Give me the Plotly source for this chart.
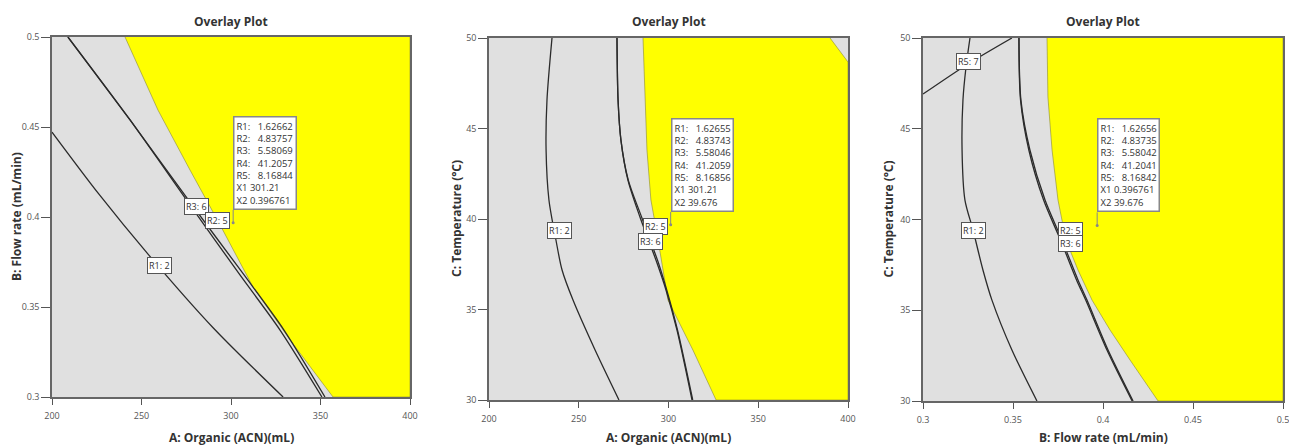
import plotly.graph_objects as go

# ---------------- data ----------------
# Panel 1: A Organic (x) vs B Flow rate (y)
p1_yellow_x = [240.8, 259.2, 277.1, 293.9, 312.3, 333.0, 357.0]
p1_yellow_y = [0.5, 0.4594, 0.4261, 0.3956, 0.3611, 0.3317, 0.3]
p1_r1_x = [200, 226.0, 254.0, 290.0, 329.1]
p1_r1_y = [0.4472, 0.4130, 0.3790, 0.3385, 0.3]
p1_r3_x = [208.9, 243.6, 277.1, 305.0, 327.4, 350.8]
p1_r3_y = [0.5, 0.4539, 0.4067, 0.3678, 0.3372, 0.3]
p1_r2_x = [208.9, 243.6, 278.2, 307.3, 329.6, 352.5]
p1_r2_y = [0.5, 0.4539, 0.4067, 0.3678, 0.3372, 0.3]
p1_labels = [("R1: 2", 260.3, 0.3728), ("R3: 6", 281.0, 0.4061), ("R2: 5", 292.2, 0.3978)]
p1_flag = (301.21, 0.396761)
p1_flag_vals = [("R1:", "1.62662"), ("R2:", "4.83757"), ("R3:", "5.58069"), ("R4:", "41.2057"),
                ("R5:", "8.16844"), ("X1", "301.21"), ("X2", "0.396761")]

# Panel 2: A Organic (x) vs C Temperature (y)
p2_yellow_x = [285.8, 286.9, 288.0, 290.2, 294.2, 299.7, 313.6, 326.5, 400, 400, 390.0]
p2_yellow_y = [50, 46.57, 43.81, 41.05, 38.84, 35.52, 32.76, 30, 30, 48.67, 50]
p2_r1_x = [235.1, 232.3, 231.8, 233.4, 237.3, 240.7, 246.8, 259.1, 272.4]
p2_r1_y = [50, 46.57, 43.81, 41.05, 38.84, 37.18, 35.52, 32.76, 30]
p2_r3_x = [271.3, 271.9, 273.5, 277.4, 284.1, 293.6, 298.6, 304.7, 313.1]
p2_r3_y = [50, 46.57, 44.36, 42.15, 40.11, 37.57, 36.08, 33.87, 30]
p2_r2_x = [271.3, 271.9, 273.5, 277.6, 285.0, 294.4, 299.0, 305.0, 313.5]
p2_r2_y = [50, 46.57, 44.36, 42.15, 40.11, 37.57, 36.08, 33.87, 30]
p2_labels = [("R1: 2", 239.0, 39.34), ("R2: 5", 292.5, 39.56), ("R3: 6", 289.7, 38.78)]
p2_flag = (301.21, 39.676)
p2_flag_vals = [("R1:", "1.62655"), ("R2:", "4.83743"), ("R3:", "5.58046"), ("R4:", "41.2059"),
                ("R5:", "8.16856"), ("X1", "301.21"), ("X2", "39.676")]

# Panel 3: B Flow rate (x) vs C Temperature (y)
p3_yellow_x = [0.3689, 0.3694, 0.3717, 0.3750, 0.3794, 0.3861, 0.3939, 0.4039, 0.4150, 0.4306]
p3_yellow_y = [50, 46.75, 43.83, 41.07, 38.87, 37.22, 35.56, 33.91, 32.26, 30]
p3_r1_x = [0.3261, 0.3239, 0.3222, 0.3217, 0.3233, 0.3278, 0.3333, 0.3383, 0.3494, 0.3633]
p3_r1_y = [50, 48.40, 46.58, 43.83, 41.07, 39.42, 37.22, 35.56, 32.81, 30]
p3_r3_x = [0.3533, 0.3544, 0.3594, 0.3678, 0.3772, 0.3861, 0.3911, 0.4028, 0.4167]
p3_r3_y = [50, 46.58, 43.83, 41.07, 38.87, 36.67, 35.56, 32.81, 30]
p3_r2_x = [0.3533, 0.3542, 0.3588, 0.3670, 0.3764, 0.3853, 0.3904, 0.4022, 0.4162]
p3_r2_y = [50, 46.58, 43.83, 41.07, 38.87, 36.67, 35.56, 32.81, 30]
p3_r5_x = [0.3, 0.325, 0.3494]
p3_r5_y = [46.91, 48.57, 50]
p3_labels = [("R5: 7", 0.325, 48.68), ("R1: 2", 0.3278, 39.37), ("R2: 5", 0.3817, 39.42), ("R3: 6", 0.3817, 38.65)]
p3_flag = (0.396761, 39.676)
p3_flag_vals = [("R1:", "1.62656"), ("R2:", "4.83735"), ("R3:", "5.58042"), ("R4:", "41.2041"),
                ("R5:", "8.16842"), ("X1", "0.396761"), ("X2", "39.676")]

titles = ["Overlay Plot", "Overlay Plot", "Overlay Plot"]
x_titles = ["A: Organic (ACN)(mL)", "A: Organic (ACN)(mL)", "B: Flow rate (mL/min)"]
y_titles = ["B: Flow rate (mL/min)", "C: Temperature (°C)", "C: Temperature (°C)"]
x_ranges = [[200, 400], [200, 400], [0.3, 0.5]]
y_ranges = [[0.3, 0.5], [30, 50], [30, 50]]
x_ticks = [[200, 250, 300, 350, 400], [200, 250, 300, 350, 400], [0.3, 0.35, 0.4, 0.45, 0.5]]
y_ticks = [[0.3, 0.35, 0.4, 0.45, 0.5], [30, 35, 40, 45, 50], [30, 35, 40, 45, 50]]

# ---------------- layout geometry ----------------
W, H = 1289, 447
x_domains = [[52 / W, 410 / W], [489 / W, 848 / W], [923 / W, 1283 / W]]
y_domains = [[1 - 397 / H, 1 - 37 / H], [1 - 400 / H, 1 - 38 / H], [1 - 401 / H, 1 - 38 / H]]
ytitle_x = [16 / W, 457 / W, 888 / W]

GRAY = "#e0e0e0"
YELLOW = "#ffff00"
LINE = "#2b2b2b"
FONT = "Open Sans"

fig = go.Figure()


def add_panel(i, yellow_x, yellow_y, lines, labels, flag, flag_vals, close_corner):
    xa = "x" if i == 0 else f"x{i+1}"
    ya = "y" if i == 0 else f"y{i+1}"
    xr, yr = x_ranges[i], y_ranges[i]
    fig.add_trace(go.Scatter(x=[xr[0], xr[1], xr[1], xr[0], xr[0]], y=[yr[0], yr[0], yr[1], yr[1], yr[0]],
                             fill="toself", fillcolor=GRAY, mode="lines", line=dict(width=0),
                             xaxis=xa, yaxis=ya, hoverinfo="skip", showlegend=False))
    px, py = list(yellow_x), list(yellow_y)
    if close_corner:
        px += [xr[1], xr[1]]
        py += [yr[0], yr[1]]
    fig.add_trace(go.Scatter(x=px, y=py, fill="toself", fillcolor=YELLOW, mode="lines",
                             line=dict(width=0.6, color="#8a8a30"),
                             xaxis=xa, yaxis=ya, hoverinfo="skip", showlegend=False))
    for lx, ly in lines:
        fig.add_trace(go.Scatter(x=lx, y=ly, mode="lines",
                                 line=dict(color=LINE, width=1.3, shape="spline", smoothing=0.8),
                                 xaxis=xa, yaxis=ya, hoverinfo="skip", showlegend=False))
    for txt, lx, ly in labels:
        fig.add_annotation(x=lx, y=ly, xref=xa, yref=ya, text=txt, showarrow=False,
                           font=dict(family=FONT, size=9, color="#333"),
                           bgcolor="white", bordercolor="#555", borderwidth=1, borderpad=1)
    fig.add_trace(go.Scatter(x=[flag[0]], y=[flag[1]], mode="markers",
                             marker=dict(size=3, color="#888"),
                             xaxis=xa, yaxis=ya, hoverinfo="skip", showlegend=False))
    rows = []
    for k, v in flag_vals:
        gap = "&nbsp;" * (3 if k.endswith(":") else 1)
        rows.append(f"{k}{gap}{v}")
    fig.add_annotation(x=flag[0], y=flag[1], xref=xa, yref=ya, text="<br>".join(rows),
                       showarrow=True, arrowhead=0, arrowwidth=1, arrowcolor="#888",
                       ax=0, ay=-13, axref="pixel", ayref="pixel", standoff=0,
                       xanchor="left", yanchor="bottom", align="left",
                       font=dict(family=FONT, size=9.5, color="#333"),
                       bgcolor="white", bordercolor="#888", borderwidth=1.5, borderpad=2)


add_panel(0, p1_yellow_x, p1_yellow_y,
          [(p1_r1_x, p1_r1_y), (p1_r3_x, p1_r3_y), (p1_r2_x, p1_r2_y)],
          p1_labels, p1_flag, p1_flag_vals, True)
add_panel(1, p2_yellow_x, p2_yellow_y,
          [(p2_r1_x, p2_r1_y), (p2_r3_x, p2_r3_y), (p2_r2_x, p2_r2_y)],
          p2_labels, p2_flag, p2_flag_vals, False)
add_panel(2, p3_yellow_x, p3_yellow_y,
          [(p3_r1_x, p3_r1_y), (p3_r3_x, p3_r3_y), (p3_r2_x, p3_r2_y), (p3_r5_x, p3_r5_y)],
          p3_labels, p3_flag, p3_flag_vals, True)

layout = dict(width=W, height=H, margin=dict(l=0, r=0, t=0, b=0, pad=0, autoexpand=False),
              paper_bgcolor="white", plot_bgcolor="white", showlegend=False)
for i in range(3):
    sx = "" if i == 0 else str(i + 1)
    common = dict(tickcolor="#555", automargin=False, ticks="outside",
                  showline=True, linecolor="#666", linewidth=1.5, mirror=True,
                  showgrid=False, zeroline=False, ticklabeloverflow="allow",
                  tickfont=dict(family=FONT, size=9, color="#555"))
    layout[f"xaxis{sx}"] = dict(domain=x_domains[i], range=x_ranges[i], anchor=f"y{sx}",
                                tickvals=x_ticks[i], ticklen=6, ticklabelstandoff=3, **common)
    layout[f"yaxis{sx}"] = dict(domain=y_domains[i], range=y_ranges[i], anchor=f"x{sx}",
                                tickvals=y_ticks[i], ticklen=9, **common)
fig.update_layout(**layout)

for i in range(3):
    cx = (x_domains[i][0] + x_domains[i][1]) / 2
    cy = (y_domains[i][0] + y_domains[i][1]) / 2
    fig.add_annotation(x=cx, y=1 - 21 / H, xref="paper", yref="paper", text=f"<b>{titles[i]}</b>",
                       showarrow=False, font=dict(family=FONT, size=12, color="#333"),
                       xanchor="center", yanchor="middle")
    fig.add_annotation(x=cx, y=1 - 437 / H, xref="paper", yref="paper", text=f"<b>{x_titles[i]}</b>",
                       showarrow=False, font=dict(family=FONT, size=12, color="#333"),
                       xanchor="center", yanchor="middle")
    fig.add_annotation(x=ytitle_x[i], y=cy, xref="paper", yref="paper", text=f"<b>{y_titles[i]}</b>",
                       showarrow=False, textangle=-90, font=dict(family=FONT, size=12, color="#333"),
                       xanchor="center", yanchor="middle")

fig.write_html("out.html")

with open("out.html", "r", encoding="utf-8") as f:
    html = f.read()
html = html.replace("<head>", "<head><style>html,body{margin:0;padding:0;overflow:hidden;}</style>", 1)
with open("out.html", "w", encoding="utf-8") as f:
    f.write(html)
